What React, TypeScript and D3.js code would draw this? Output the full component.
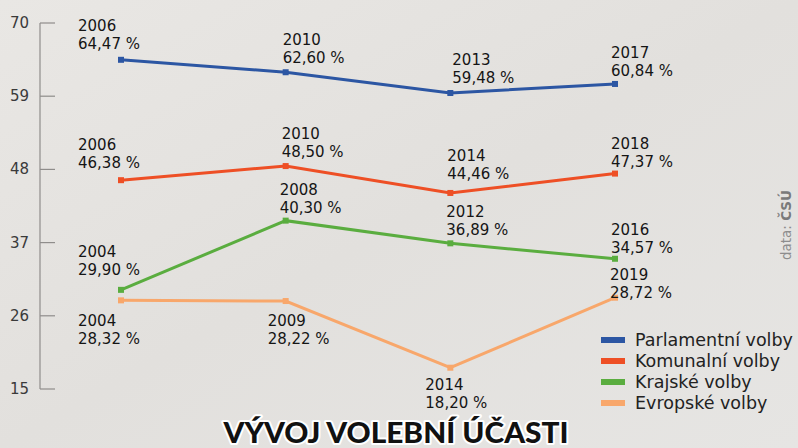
import React from "react";
import * as d3 from "d3";

// chart data
const slots = [0, 1, 2, 3];
const seriesNames = ["Parlamentní volby", "Komunalní volby", "Krajské volby", "Evropské volby"];
const seriesColors = ["#2c56a3", "#ee4f25", "#5aad3f", "#f8a76b"];
const parlYears = ["2006", "2010", "2013", "2017"];
const parlValues = [64.47, 62.6, 59.48, 60.84];
const komYears = ["2006", "2010", "2014", "2018"];
const komValues = [46.38, 48.5, 44.46, 47.37];
const krajYears = ["2004", "2008", "2012", "2016"];
const krajValues = [29.9, 40.3, 36.89, 34.57];
const euYears = ["2004", "2009", "2014", "2019"];
const euValues = [28.32, 28.22, 18.2, 28.72];
const yTicks = [15, 26, 37, 48, 59, 70];

// label placement: dx from the point, dy of the second line's baseline from the point
const labelDx = [
  [-43, -3, 2, -4],
  [-43, -4, -3, -4],
  [-43, -6, -4, -4],
  [-43, -18, -25, -5],
];
const labelDy = [
  [-11, -9, -10, -8],
  [-12, -9, -14, -7],
  [-15, -8, -8, -6],
  [44, 43, 40, 0],
];

const W = 798;
const H = 448;
const FONT = "'DejaVu Sans', sans-serif";
const LINE_GAP = 18;

type Series = { name: string; color: string; years: string[]; values: number[] };

export default function App() {
  const series: Series[] = [
    { name: seriesNames[0], color: seriesColors[0], years: parlYears, values: parlValues },
    { name: seriesNames[1], color: seriesColors[1], years: komYears, values: komValues },
    { name: seriesNames[2], color: seriesColors[2], years: krajYears, values: krajValues },
    { name: seriesNames[3], color: seriesColors[3], years: euYears, values: euValues },
  ];

  const x = d3.scaleLinear().domain([0, 3]).range([121, 615]);
  const y = d3.scaleLinear().domain([15, 70]).range([389, 23]);
  const line = d3
    .line<number>()
    .x((_, i) => x(slots[i]))
    .y((d) => y(d));

  const fmt = (v: number) => d3.format(".2f")(v).replace(".", ",") + " %";

  return (
    <svg
      width={W}
      height={H}
      style={{ position: "absolute", left: 0, top: 0 }}
      fontFamily={FONT}
    >
      <defs>
        <linearGradient id="bg" x1="0" y1="0" x2="1" y2="1">
          <stop offset="0" stopColor="#e9e7e4" />
          <stop offset="0.5" stopColor="#e2e0dd" />
          <stop offset="1" stopColor="#e6e5e3" />
        </linearGradient>
      </defs>
      <rect width={W} height={H} fill="url(#bg)" />

      {/* y axis */}
      <line x1={40} x2={40} y1={y(70)} y2={y(15)} stroke="#8f8d8b" strokeWidth={1.2} />
      {yTicks.map((t) => (
        <g key={t}>
          <line x1={40} x2={55} y1={y(t)} y2={y(t)} stroke="#8f8d8b" strokeWidth={1.2} />
          <text x={29} y={y(t) + 5} textAnchor="end" fontSize={15} fill="#3a3a3a">
            {t}
          </text>
        </g>
      ))}

      {/* lines */}
      {series.map((s) => (
        <g key={s.name}>
          <path d={line(s.values) || ""} fill="none" stroke={s.color} strokeWidth={3} />
          {s.values.map((v, i) => (
            <rect key={i} x={x(slots[i]) - 3} y={y(v) - 3} width={6} height={6} fill={s.color} />
          ))}
        </g>
      ))}

      {/* value labels */}
      {series.map((s, si) =>
        s.values.map((v, i) => {
          const lx = x(slots[i]) + labelDx[si][i];
          const b2 = y(v) + labelDy[si][i];
          return (
            <text key={si + "-" + i} fontSize={15} fill="#151515">
              <tspan x={lx} y={b2 - LINE_GAP}>
                {s.years[i]}
              </tspan>
              <tspan x={lx} y={b2}>
                {fmt(v)}
              </tspan>
            </text>
          );
        })
      )}

      {/* legend */}
      {series.map((s, i) => (
        <g key={s.name} transform={`translate(601, ${340 + i * 21})`}>
          <rect x={0} y={-3} width={24} height={6} fill={s.color} />
          <text x={34} y={6} fontSize={17.5} fill="#222">
            {s.name}
          </text>
        </g>
      ))}

      {/* source */}
      <text
        transform="translate(791, 225) rotate(-90)"
        textAnchor="middle"
        fontSize={13.5}
        fill="#8d8d8d"
      >
        data: <tspan fontWeight="bold" fill="#7a7a7a">ČSÚ</tspan>
      </text>

      {/* title */}
      <text
        x={396}
        y={443}
        textAnchor="middle"
        fontSize={29}
        fontFamily="Lato, sans-serif"
        fontWeight={900}
        fill="#111"
        stroke="#fff"
        strokeWidth={4}
        strokeLinejoin="round"
        paintOrder="stroke"
        textLength={345}
        lengthAdjust="spacingAndGlyphs"
      >
        VÝVOJ VOLEBNÍ ÚČASTI
      </text>
    </svg>
  );
}
